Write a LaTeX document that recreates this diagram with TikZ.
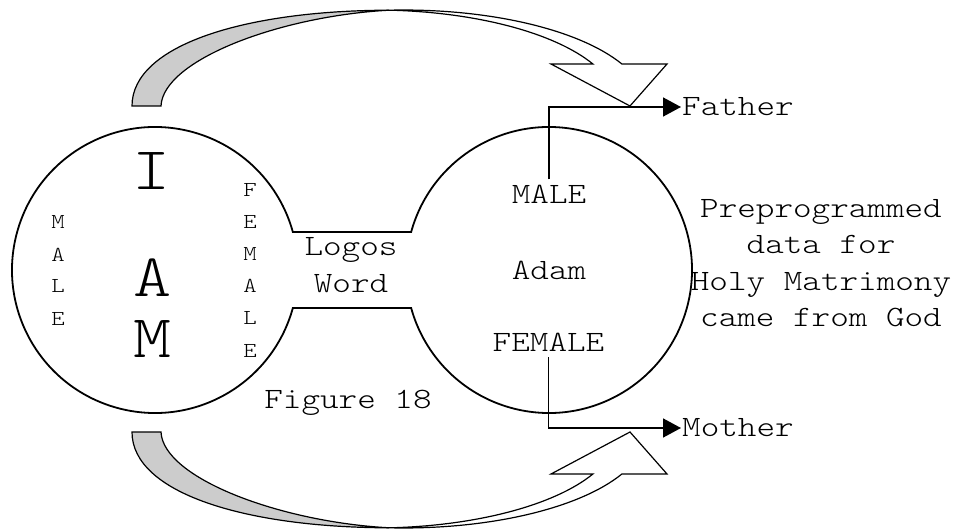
\documentclass[tikz,border=0pt]{standalone}
\usepackage{fontspec}
\setmainfont{lmmonolt10-regular.otf}[FakeStretch=1.2]
\usepackage{tikz}
\usetikzlibrary{arrows.meta, calc, positioning}
\tikzstyle{txt} = [font=\fontsize{29.5}{36.5}\selectfont, align=center, inner sep=0pt]
\tikzstyle{iam} = [font=\fontsize{60.5}{70}\selectfont, inner sep=0pt, anchor=base]
\tikzstyle{letter} = [font=\fontsize{21.3}{26}\selectfont, inner sep=0pt, anchor=base]
\tikzstyle{outline} = [line width=1.8pt]
\tikzstyle{arrow} = [line width=1.6pt, -{Triangle[length=18pt,width=19pt]}]
\tikzstyle{band} = [draw=black, line width=1.2pt, fill=gray!40]
\tikzstyle{front} = [draw=black, line width=1.2pt, fill=white]
\tikzstyle{ell} = [x radius=242.7pt, y radius=96pt]

\begin{document}
\begin{tikzpicture}[x=1pt, y=1pt]
    \useasboundingbox (0,0) rectangle (954,531);
    \coordinate (lc) at (155,261);
    \coordinate (rc) at (549,261);

    % I AM circle and Adam circle, joined by the neck
    \draw [outline] ($(lc)+(15.41:143pt)$) -- ($(rc)+(164.59:143pt)$)
        arc[start angle=164.59, end angle=-164.59, radius=143pt]
        -- ($(lc)+(-15.41:143pt)$)
        arc[start angle=-15.41, end angle=-344.59, radius=143pt] -- cycle;

    % curved arrow on top
    \coordinate (ttail) at (132,425);
    \coordinate (tcross) at (389.2,520.8);
    \draw [band] (ttail) .. controls (132,486) and (245,520.5) .. (tcross)
        .. controls (280,515) and (163,471) .. (161,425) -- cycle;
    \draw [front] (tcross) arc[ell, start angle=93.42, end angle=25.94]
        -- (667,467) -- (630,425) -- (551,467) -- (592.9,467)
        arc[ell, start angle=25.94, end angle=86.58] -- cycle;

    % curved arrow below
    \coordinate (btail) at (132,99);
    \coordinate (bcross) at (389.2,3.2);
    \draw [band] (btail) .. controls (132,38) and (245,3.5) .. (bcross)
        .. controls (280,9) and (163,53) .. (161,99) -- cycle;
    \draw [front] (bcross) arc[ell, start angle=266.58, end angle=334.06]
        -- (667,57) -- (630,99) -- (551,57) -- (592.9,57)
        arc[ell, start angle=334.06, end angle=273.42] -- cycle;

    \node (i) [iam] at (152,341) {I};
    \node (a) [iam] at (153,234) {A};
    \node (m) [iam] at (153,173) {M};

    \node (m1) [letter] at (58,302) {M};
    \node (m2) [letter] at (58,269) {A};
    \node (m3) [letter] at (58,238) {L};
    \node (m4) [letter] at (58,205) {E};

    \node (f1) [letter] at (250,334) {F};
    \node (f2) [letter] at (250,302) {E};
    \node (f3) [letter] at (250,270) {M};
    \node (f4) [letter] at (250,238) {A};
    \node (f5) [letter] at (250,206) {L};
    \node (f6) [letter] at (250,174) {E};

    \node (logos) [txt] at (351,266) {Logos\\Word};
    \node (adam) [txt] at (rc) {Adam};
    \node (male) [txt, inner sep=6pt, anchor=base] at (549,327) {MALE};
    \node (female) [txt, inner sep=5pt, anchor=base] at (548.5,179) {FEMALE};
    \node (father) [txt, anchor=west, inner sep=1pt] at (681,424) {Father};
    \node (mother) [txt, anchor=west, inner sep=1pt] at (681,103) {Mother};
    \node (data) [txt] at (821,268) {Preprogrammed\\data for\\Holy Matrimony\\came from God};
    \node (fig) [txt, anchor=base] at (348,123) {Figure 18};

    \draw [arrow] (male.north) |- (father.west);
    \draw [arrow] (female.south) |- (mother.west);
\end{tikzpicture}
\end{document}
